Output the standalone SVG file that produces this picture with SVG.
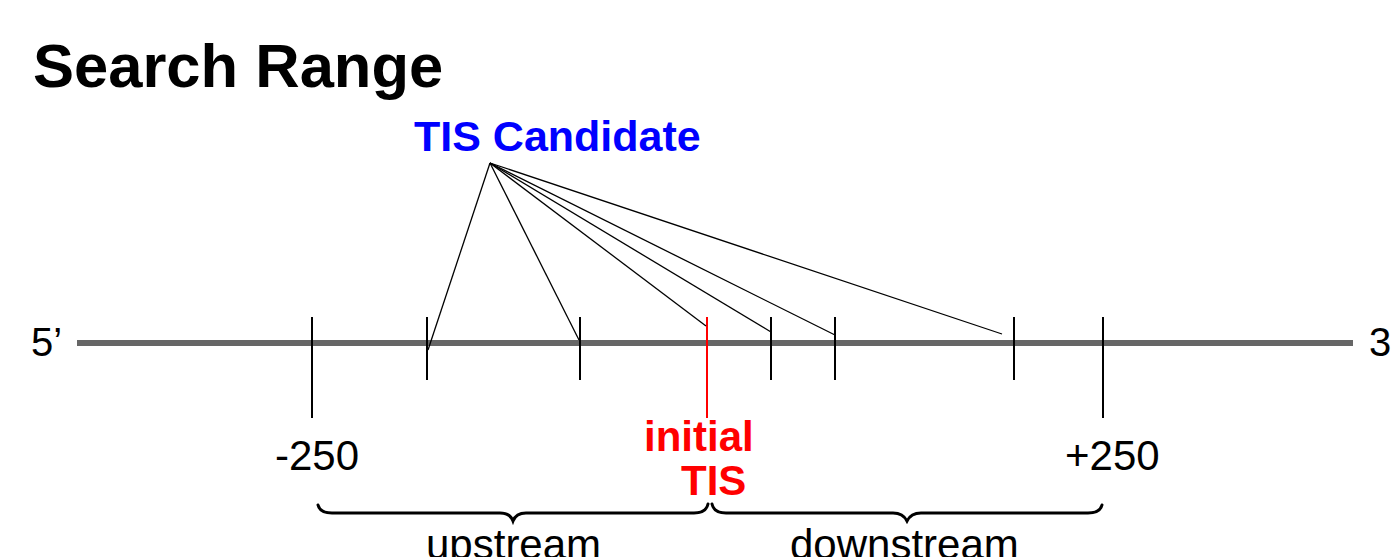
<svg xmlns="http://www.w3.org/2000/svg" width="1392" height="557" viewBox="0 0 1392 557">
  <style>
    text { font-family: "Liberation Sans", Arial, sans-serif; }
    .bold { font-weight: bold; }
    .label { font-size: 42px; fill: #000; }
    .tick { stroke: #000; stroke-width: 2; }
    .fan { stroke: #000; stroke-width: 1.3; fill: none; }
    .brace { stroke: #000; stroke-width: 3; fill: none; stroke-linecap: round; }
  </style>
  <rect width="1392" height="557" fill="#fff"/>

  <g id="title">
    <text x="33" y="87" class="bold" font-size="61.5">Search Range</text>
  </g>

  <!-- sequence axis with strand ends -->
  <g id="axis">
    <line x1="77" y1="343" x2="1353" y2="343" stroke="#666" stroke-width="6"/>
    <text x="31" y="356" font-size="40">5’</text>
    <text x="1369" y="356" font-size="40">3’</text>
  </g>

  <!-- range limits -->
  <g id="limit-upstream">
    <line x1="312" y1="317" x2="312" y2="418" class="tick"/>
    <text x="275" y="470" class="label">-250</text>
  </g>
  <g id="limit-downstream">
    <line x1="1103" y1="317" x2="1103" y2="418" class="tick"/>
    <text x="1065" y="470" class="label">+250</text>
  </g>

  <!-- candidate sites -->
  <g id="candidates">
    <line x1="427" y1="317" x2="427" y2="380" class="tick"/>
    <line x1="580" y1="317" x2="580" y2="380" class="tick"/>
    <line x1="771" y1="317" x2="771" y2="380" class="tick"/>
    <line x1="835" y1="317" x2="835" y2="380" class="tick"/>
    <line x1="1014" y1="317" x2="1014" y2="380" class="tick"/>
  </g>

  <g id="initial-tis">
    <line x1="707" y1="317" x2="707" y2="418" stroke="#f00" stroke-width="2"/>
    <text x="644" y="451" class="bold" font-size="42" fill="#f00">initial</text>
    <text x="681" y="495" class="bold" font-size="42" fill="#f00">TIS</text>
  </g>

  <g id="tis-candidate-label">
    <text x="414" y="151" class="bold" font-size="43" fill="#00f">TIS Candidate</text>
  </g>

  <!-- connectors from the label to each candidate -->
  <g id="connectors">
    <line x1="490" y1="163" x2="428" y2="350" class="fan"/>
    <line x1="490" y1="163" x2="579" y2="340" class="fan"/>
    <line x1="490" y1="163" x2="706" y2="326" class="fan"/>
    <line x1="490" y1="163" x2="771" y2="332" class="fan"/>
    <line x1="490" y1="163" x2="835" y2="335" class="fan"/>
    <line x1="490" y1="163" x2="1002" y2="334" class="fan"/>
  </g>

  <!-- brackets marking upstream / downstream halves -->
  <g id="upstream">
    <path class="brace" d="M318,505 Q320,513 332,513 L500,513 Q510,513 513,521 Q516,513 526,513 L694,513 Q706,513 708,504"/>
    <text x="426" y="559" class="label">upstream</text>
  </g>
  <g id="downstream">
    <path class="brace" d="M712,504 Q714,513 726,513 L893,513 Q903,513 907,521 Q911,513 921,513 L1088,513 Q1100,513 1102,505"/>
    <text x="790" y="559" class="label">downstream</text>
  </g>
</svg>
